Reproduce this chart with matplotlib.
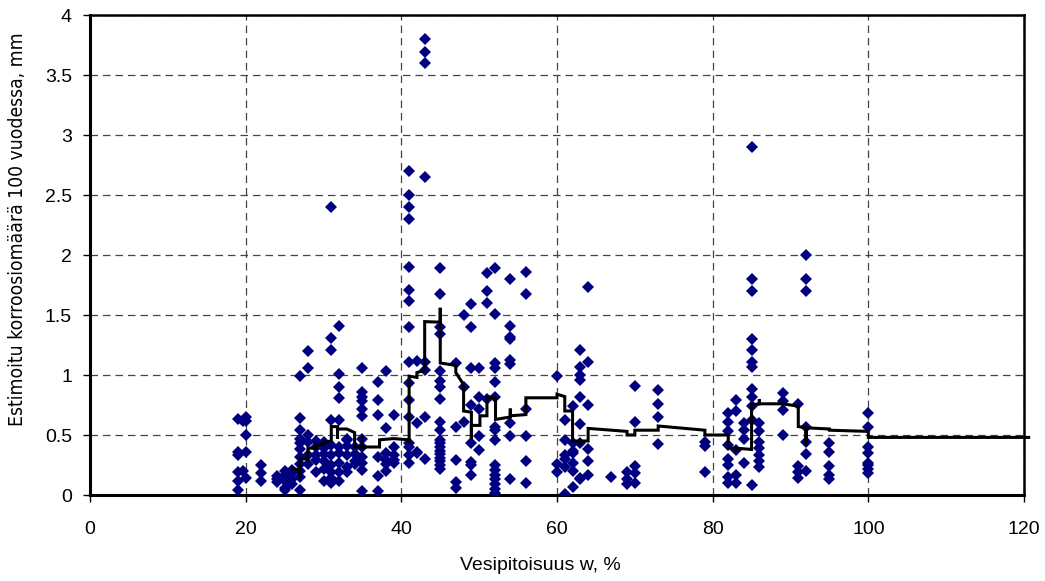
import matplotlib
matplotlib.use("Agg")
import matplotlib.pyplot as plt
import numpy as np

# water content columns (%) and the corrosion values read at each column (mm / 100 a)
water_cols = [19, 19.6, 20, 22, 24, 25, 26, 27, 28, 29, 30, 31, 32, 33, 34, 35, 37, 38, 39,
              41, 42, 43, 45, 47, 48, 49, 50, 51, 52, 54, 56, 60, 61, 62, 63, 64, 67, 69,
              70, 73, 79, 82, 83, 84, 85, 86, 89, 91, 92, 95, 100]
corrosion_cols = [
    [0.63, 0.36, 0.33, 0.19, 0.12, 0.04],
    [0.20, 0.62],
    [0.65, 0.62, 0.50, 0.36, 0.14],
    [0.25, 0.18, 0.12],
    [0.16, 0.11, 0.13],
    [0.20, 0.17, 0.12, 0.06, 0.04],
    [0.18, 0.13, 0.09, 0.21],
    [0.99, 0.64, 0.54, 0.47, 0.43, 0.38, 0.32, 0.26, 0.20, 0.15, 0.04],
    [1.20, 1.055, 0.50, 0.44, 0.26, 0.33],
    [0.45, 0.40, 0.33, 0.19, 0.29],
    [0.44, 0.39, 0.34, 0.22, 0.12, 0.28],
    [2.40, 1.31, 1.21, 0.625, 0.33, 0.25, 0.19, 0.14, 0.10, 0.42],
    [1.41, 1.01, 0.90, 0.81, 0.625, 0.40, 0.35, 0.27, 0.12, 0.19],
    [0.47, 0.41, 0.33, 0.23, 0.46, 0.19],
    [0.40, 0.34, 0.28, 0.26],
    [1.055, 0.86, 0.82, 0.78, 0.72, 0.66, 0.47, 0.40, 0.32, 0.27, 0.21, 0.03],
    [0.94, 0.79, 0.67, 0.32, 0.16, 0.03],
    [1.03, 0.555, 0.35, 0.29, 0.26, 0.20],
    [0.67, 0.40, 0.33, 0.29, 0.27],
    [2.70, 2.50, 2.40, 2.30, 1.90, 1.71, 1.62, 1.40, 1.11, 0.93, 0.79, 0.65, 0.43, 0.40, 0.33, 0.27],
    [1.12, 0.60, 0.36, 0.35],
    [3.80, 3.69, 3.60, 2.65, 1.11, 1.04, 0.65, 0.30],
    [1.89, 1.675, 1.40, 1.34, 1.03, 0.95, 0.90, 0.80, 0.61, 0.54, 0.46, 0.43, 0.40, 0.37,
     0.34, 0.31, 0.28, 0.25, 0.22],
    [1.10, 0.57, 0.29, 0.11, 0.06],
    [1.50, 0.90, 0.61],
    [1.59, 1.40, 1.055, 0.75, 0.43, 0.275, 0.25, 0.17],
    [1.055, 0.82, 0.72, 0.49, 0.375],
    [1.85, 1.70, 1.60, 0.80],
    [1.89, 1.51, 1.10, 1.055, 0.94, 0.82, 0.57, 0.54, 0.46, 0.25, 0.21, 0.17, 0.13, 0.09, 0.05, 0.02],
    [1.80, 1.41, 1.32, 1.30, 1.125, 1.09, 0.60, 0.49, 0.13],
    [1.855, 1.675, 0.72, 0.49, 0.28, 0.10],
    [0.99, 0.26, 0.19],
    [0.625, 0.46, 0.33, 0.30, 0.23, 0.01],
    [0.74, 0.43, 0.37, 0.35, 0.27, 0.20, 0.07],
    [1.21, 1.07, 1.00, 0.96, 0.82, 0.59, 0.43, 0.14, 0.13],
    [1.73, 1.11, 0.75, 0.38, 0.28, 0.17],
    [0.15],
    [0.19, 0.13, 0.09],
    [0.91, 0.61, 0.24, 0.18, 0.10],
    [0.875, 0.76, 0.65, 0.425],
    [0.44, 0.41, 0.19],
    [0.68, 0.61, 0.53, 0.42, 0.30, 0.25, 0.15, 0.10],
    [0.79, 0.70, 0.375, 0.17, 0.10],
    [0.60, 0.54, 0.47, 0.27],
    [2.90, 1.80, 1.70, 1.30, 1.21, 1.11, 1.07, 0.88, 0.82, 0.74, 0.625, 0.08],
    [0.60, 0.53, 0.44, 0.39, 0.33, 0.28, 0.23],
    [0.85, 0.78, 0.71, 0.50],
    [0.76, 0.24, 0.19, 0.14],
    [2.00, 1.80, 1.70, 0.57, 0.44, 0.34, 0.20],
    [0.43, 0.36, 0.24, 0.17, 0.13],
    [0.68, 0.57, 0.40, 0.35, 0.27, 0.25, 0.22, 0.18],
]

# step line (running estimate) vertices
line_x = [25.9, 27.0, 27.0, 27.0, 28.0, 28.0, 29.0, 29.0, 30.0, 30.0, 31.0, 31.0, 31.8, 31.8,
          31.8, 33.0, 34.0, 34.0, 35.0, 35.0, 35.0, 37.2, 37.2, 39.0, 41.0, 41.0, 41.0, 42.0,
          42.0, 43.0, 43.0, 45.0, 45.0, 45.0, 47.0, 47.0, 48.0, 48.0, 49.0, 49.0, 49.0, 50.1,
          50.1, 51.0, 51.0, 52.1, 52.1, 54.0, 54.0, 54.0, 56.0, 56.0, 60.0, 60.0, 61.0, 61.0,
          62.0, 62.0, 63.0, 63.0, 63.0, 64.0, 64.0, 69.0, 69.0, 70.0, 70.0, 73.0, 73.0, 79.0,
          79.0, 82.0, 82.0, 83.0, 83.0, 83.0, 85.0, 85.0, 85.0, 86.0, 86.0, 86.0, 89.0, 91.0,
          91.0, 92.0, 92.0, 92.0, 95.0, 95.0, 100.0, 100.0, 120.6]
line_y = [0.22, 0.21, 0.14, 0.30, 0.30, 0.39, 0.39, 0.42, 0.42, 0.44, 0.45, 0.57, 0.57, 0.47,
          0.55, 0.55, 0.52, 0.40, 0.40, 0.49, 0.40, 0.40, 0.46, 0.47, 0.46, 0.43, 0.99, 0.98,
          1.02, 1.04, 1.445, 1.44, 1.56, 1.10, 1.08, 1.02, 0.92, 0.70, 0.69, 0.47, 0.58, 0.58,
          0.66, 0.66, 0.82, 0.81, 0.63, 0.65, 0.72, 0.66, 0.67, 0.81, 0.81, 0.84, 0.82, 0.70,
          0.70, 0.45, 0.45, 0.41, 0.45, 0.45, 0.555, 0.53, 0.50, 0.50, 0.54, 0.54, 0.575, 0.54,
          0.50, 0.50, 0.39, 0.39, 0.37, 0.39, 0.38, 0.37, 0.75, 0.76, 0.80, 0.76, 0.76, 0.74,
          0.57, 0.56, 0.41, 0.56, 0.55, 0.54, 0.53, 0.48, 0.48]

x_ticks = [0, 20, 40, 60, 80, 100, 120]
y_ticks = [0, 0.5, 1, 1.5, 2, 2.5, 3, 3.5, 4]
y_tick_labels = ["0", "0.5", "1", "1.5", "2", "2.5", "3", "3.5", "4"]

pts_x = np.concatenate([[x] * len(v) for x, v in zip(water_cols, corrosion_cols)])
pts_y = np.concatenate(corrosion_cols)

plt.rcParams["font.family"] = ["Liberation Sans", "DejaVu Sans"]

fig = plt.figure(figsize=(10.45, 5.81), dpi=100)
ax = fig.add_axes([90 / 1045, 86 / 581, 934 / 1045, 480 / 581])

ax.set_xlim(0, 120)
ax.set_ylim(0, 4)

ax.grid(True, color="#444444", linestyle=(0, (6, 4)), linewidth=0.9)
ax.set_axisbelow(True)

ax.plot(pts_x, pts_y, linestyle="none", marker="D", markersize=6.6,
        color="#000080", markeredgewidth=0, zorder=3)
ax.plot(line_x, line_y, color="black", linewidth=2.2, solid_joinstyle="miter",
        clip_on=False, zorder=4)

for side in ["left", "bottom"]:
    ax.spines[side].set_linewidth(2.2)
for side in ["top", "right"]:
    ax.spines[side].set_linewidth(1.8)

ax.set_xticks(x_ticks)
ax.set_yticks(y_ticks)
ax.set_yticklabels(y_tick_labels)
ax.tick_params(axis="both", labelsize=14, length=5, width=1, direction="out")
ax.tick_params(axis="x", pad=14)
ax.tick_params(axis="y", pad=8)

fig.text(540 / 1045, 1 - 565 / 581, "Vesipitoisuus w, %", ha="center", va="center", fontsize=14)
fig.text(18 / 1045, 1 - 229 / 581, "Estimoitu korroosiomäärä 100 vuodessa, mm",
         rotation=90, ha="center", va="center", fontsize=13.9,
         family="DejaVu Sans", fontstretch="condensed", fontweight="light")

fig.savefig("out.png", dpi=100)
